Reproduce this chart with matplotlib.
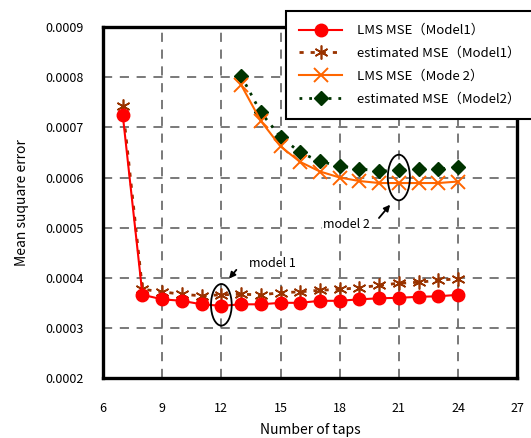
import matplotlib
matplotlib.use('Agg')
import matplotlib.pyplot as plt
from matplotlib.patches import Ellipse

plt.rcParams['font.family'] = ['Noto Sans CJK JP', 'DejaVu Sans']

taps1 = [7, 8, 9, 10, 11, 12, 13, 14, 15, 16, 17, 18, 19, 20, 21, 22, 23, 24]
lms1 = [0.000725, 0.000366, 0.000357, 0.000354, 0.000347, 0.000344, 0.000347, 0.000347,
        0.000350, 0.000350, 0.000354, 0.000354, 0.000357, 0.000359, 0.000360, 0.000362,
        0.000363, 0.000366]
est1 = [0.000742, 0.000377, 0.000372, 0.000367, 0.000364, 0.000366, 0.000367, 0.000366,
        0.000370, 0.000372, 0.000375, 0.000377, 0.000380, 0.000385, 0.000389, 0.000391,
        0.000395, 0.000398]

taps2 = [13, 14, 15, 16, 17, 18, 19, 20, 21, 22, 23, 24]
lms2 = [0.000785, 0.000713, 0.000662, 0.000631, 0.000612, 0.000600, 0.000593, 0.000589,
        0.000589, 0.000589, 0.000589, 0.000592]
est2 = [0.000803, 0.000730, 0.000681, 0.000650, 0.000632, 0.000623, 0.000617, 0.000613,
        0.000614, 0.000617, 0.000617, 0.000620]

labels = ['LMS MSE（Model1）', 'estimated MSE（Model1）', 'LMS MSE（Mode 2）', 'estimated MSE（Model2）']

fig = plt.figure(figsize=(5.31, 4.38), dpi=100)
ax = fig.add_axes([0.194, 0.137, 0.78, 0.801])

l1, = ax.plot(taps1, lms1, color='#ff0000', lw=1.5, marker='o', ms=9, zorder=4)
l2, = ax.plot(taps1, est1, color='#993300', lw=2, ls=(0, (1.5, 2.5)),
              marker=(6, 2, 0), ms=10, mew=1.2, zorder=3)
l3, = ax.plot(taps2, lms2, color='#ff6600', lw=1.5, marker='x', ms=10, mew=1.4, zorder=4)
l4, = ax.plot(taps2, est2, color='#003300', lw=2, ls=(0, (1, 2.5)),
              marker='D', ms=7.5, zorder=3)

ax.set_xlim(6, 27)
ax.set_ylim(0.0002, 0.0009)
ax.set_xticks(range(6, 28, 3))
ax.set_yticks([0.0002 + 0.0001 * i for i in range(8)])
ax.yaxis.set_major_formatter(matplotlib.ticker.FormatStrFormatter('%.4f'))
ax.tick_params(labelsize=9, length=0, pad=14)
ax.tick_params(axis='x', pad=17)
ax.grid(True, color='#555555', ls=(0, (6, 5)), lw=1.1)
for s in ax.spines.values():
    s.set_linewidth(2.4)

ax.set_xlabel('Number of taps', fontsize=10, labelpad=6)
ax.set_ylabel('Mean suquare error', fontsize=10, labelpad=12)

# circles around the chosen tap counts
ax.add_patch(Ellipse((12, 0.000346), 1.05, 0.000083, fill=False, color='black', lw=1.3, zorder=5))
ax.add_patch(Ellipse((21, 0.0006), 1.12, 0.000091, fill=False, color='black', lw=1.3, zorder=5))

ax.annotate('', xy=(12.3, 0.000394), xytext=(12.85, 0.00042),
            arrowprops=dict(arrowstyle='-|>', color='black', lw=1.3, mutation_scale=9))
ax.text(13.4, 0.000428, 'model 1', fontsize=9, va='center', ha='left', zorder=6,
        bbox=dict(facecolor='white', edgecolor='none', pad=1))
ax.annotate('', xy=(20.65, 0.00055), xytext=(19.9, 0.000515),
            arrowprops=dict(arrowstyle='-|>', color='black', lw=1.3, mutation_scale=9))
ax.text(17.15, 0.000507, 'model 2', fontsize=9, va='center', ha='left', zorder=6,
        bbox=dict(facecolor='white', edgecolor='none', pad=1))

leg = fig.legend([l1, l2, l3, l4], labels, loc='upper left',
                 bbox_to_anchor=(0.538, 0.975), fontsize=9.5, handlelength=3.3,
                 labelspacing=0.75, borderpad=1.0, handletextpad=1.1, borderaxespad=0,
                 fancybox=False, framealpha=1, edgecolor='black')
leg.get_frame().set_linewidth(1.5)

fig.savefig('out.png', dpi=100)
